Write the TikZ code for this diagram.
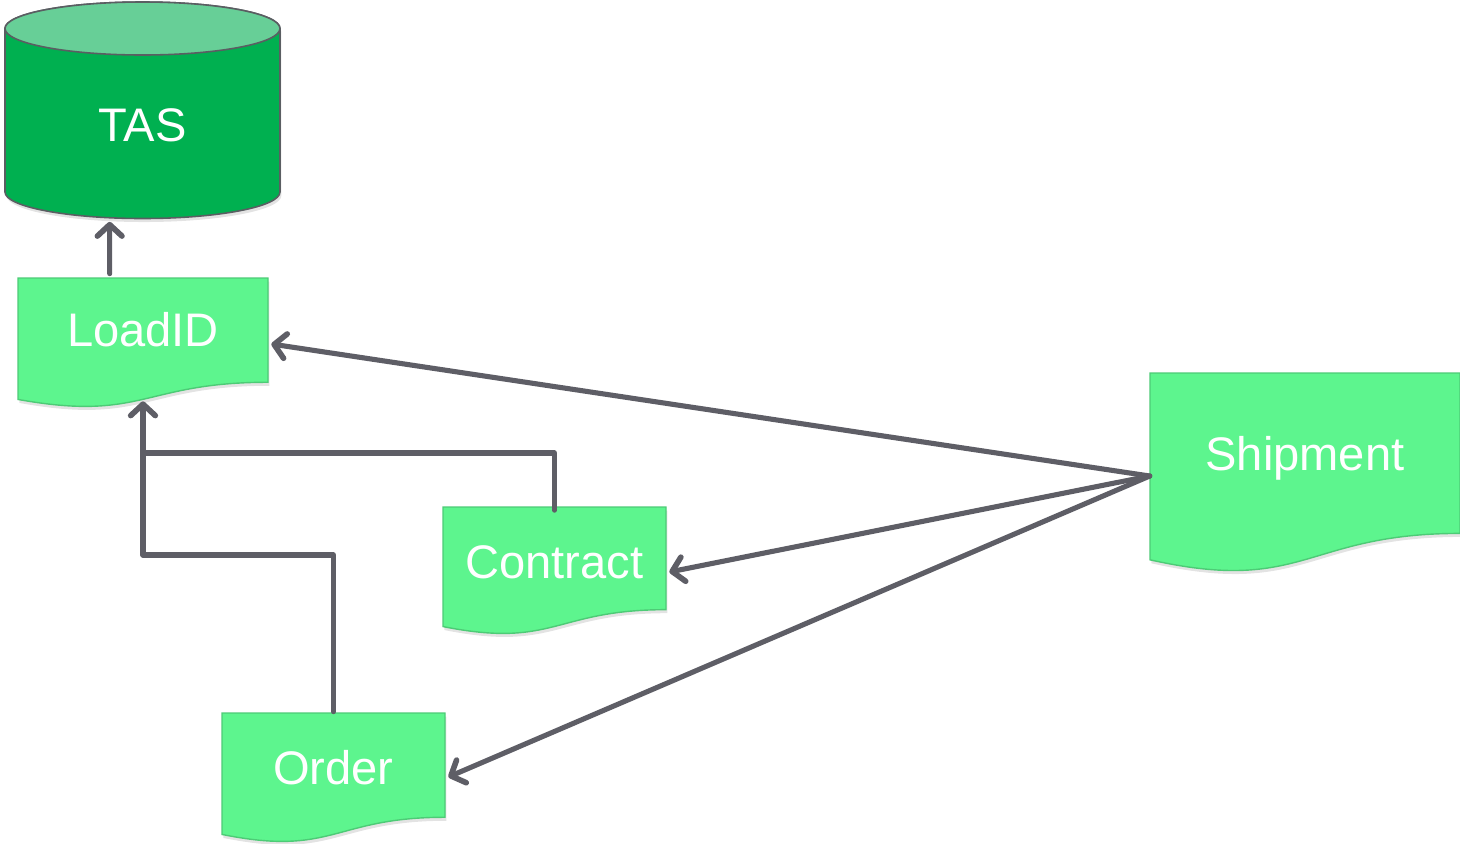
\documentclass[tikz,border=0pt]{standalone}
\usepackage{fontspec}
\setmainfont{Liberation Sans}
\usetikzlibrary{arrows.meta,calc,shadows}
\definecolor{tasgreen}{HTML}{00B050}
\definecolor{tastop}{HTML}{67CF97}
\definecolor{docgreen}{HTML}{5DF58E}
\definecolor{docedge}{HTML}{4DCB76}
\definecolor{linegray}{HTML}{5E5E66}
\definecolor{cyledge}{HTML}{5A5E62}
\newcommand\docshape[4]{%
  \path[docfill] (#1,#2) -- ({#1+#3},#2) -- ({#1+#3},{#2+0.802*#4})
    .. controls ({#1+0.5*#3},{#2+0.802*#4}) and ({#1+0.5*#3},{#2+1.108*#4}) .. (#1,{#2+0.934*#4}) -- cycle;}
\tikzset{
  docfill/.style={fill=docgreen, draw=docedge, line width=0.8pt,
    drop shadow={opacity=0.22, shadow xshift=0.8pt, shadow yshift=-2pt}},
  label/.style={text=white, font=\fontsize{26.8}{32}\selectfont, inner sep=0pt},
  conn/.style={draw=linegray, line width=2.9pt, line cap=round, line join=round},
  arr/.style={conn, -{Straight Barb[length=6.5pt, width=14pt, line width=3.2pt, line cap=round, line join=round]}},
}
\begin{document}
\begin{tikzpicture}[x=0.02cm, y=-0.02cm]
\useasboundingbox (0,0) rectangle (1460,843);
% TAS cylinder
\path[fill=tasgreen, draw=cyledge, line width=0.9pt,
  drop shadow={opacity=0.22, shadow xshift=0.8pt, shadow yshift=-2pt}]
  (5,28.5) -- (5,192) arc[start angle=180, end angle=360, x radius=137.5, y radius=-26.5]
  -- (280,28.5) arc[start angle=0, end angle=180, x radius=137.5, y radius=-26.5] -- cycle;
\path[fill=tastop, draw=cyledge, line width=0.9pt] (142.5,28.5) ellipse[x radius=137.5, y radius=26.5];
\node[label, minimum width=5.5cm, minimum height=3.3cm] (tas) at (142.5,125) {TAS};
% documents
\docshape{18}{278}{250}{130}
\docshape{443}{507}{223}{128}
\docshape{222}{713}{223}{130}
\docshape{1150}{373}{310}{200}
\node[label, minimum width=5cm, minimum height=2.08cm] (loadid) at (143,330) {LoadID};
\node[label, minimum width=4.46cm, minimum height=2.06cm] (contract) at (554.5,562) {Contract};
\node[label, minimum width=4.46cm, minimum height=2.08cm] (order) at (333.5,768) {Order};
\node[label, minimum width=6.2cm, minimum height=3.2cm] (shipment) at (1305,458) {Shipment};
% connectors
\coordinate (ship) at ($(shipment.west)+(0,18)$);
\coordinate (j1) at (143,453);
\coordinate (j2) at (143,555);
\draw[arr] ($(loadid.north west)+(92,-4)$) -- ($(tas.south west)+(105,14)$);
\draw[arr] (ship) -- ($(loadid.east)+(3,14)$);
\draw[arr] (ship) -- ($(contract.east)+(3,10)$);
\draw[arr] (ship) -- ($(order.east)+(3,9)$);
\draw[arr] (contract.north) |- (j1) -- ($(loadid.south)+(0,19)$);
\draw[conn] ($(order.north)+(0,-4)$) |- (j2) -- (j1);
\end{tikzpicture}
\end{document}
